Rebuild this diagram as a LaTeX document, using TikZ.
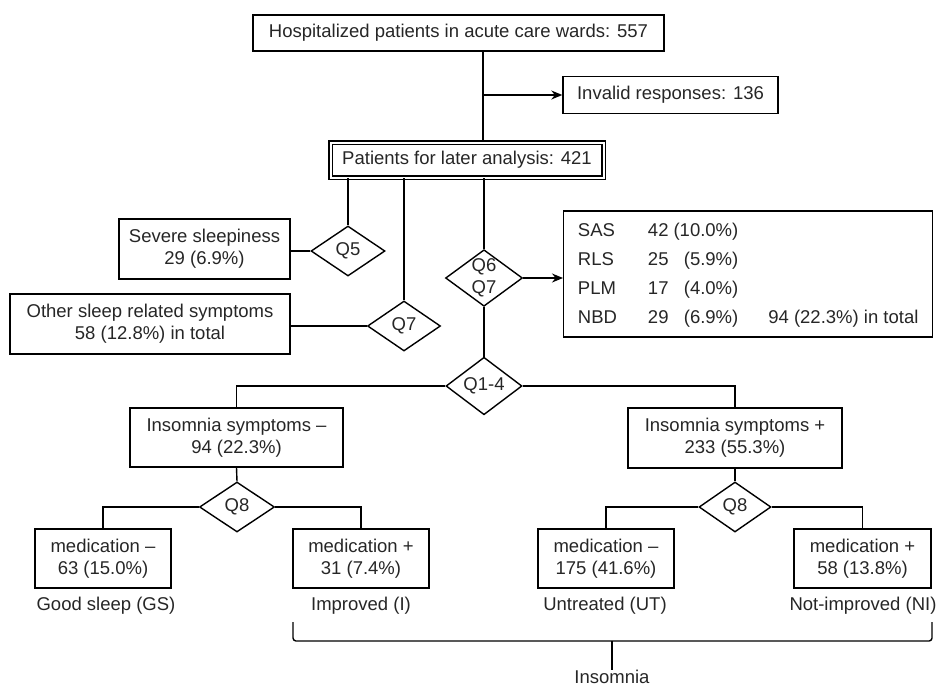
\documentclass[tikz,border=0pt]{standalone}
\usepackage{fontspec}
\setmainfont{Liberation Sans}
\usetikzlibrary{shapes.geometric,arrows.meta}
\begin{document}
\begin{tikzpicture}[x=1pt,y=-1pt,
  every node/.style={font=\fontsize{18.5}{22}\selectfont, text=black!85},
  box/.style={draw, rectangle, inner sep=0pt, align=center, line width=1.4pt},
  dbox/.style={draw, rectangle, inner sep=0pt, align=center, line width=1.1pt, double, double distance=2pt},
  dia/.style={draw, diamond, inner sep=0pt, align=center, line width=1.4pt},
  conn/.style={line width=1.4pt},
  arr/.style={conn, -{Stealth[length=11pt,width=9pt]}},
  lbl/.style={inner sep=0pt}
]
\useasboundingbox (0,0) rectangle (945,686);
% top part
\node[box, minimum width=411pt, minimum height=36pt] (top) at (458.5,33) {Hospitalized patients in acute care wards: 557};
\node[box, minimum width=215pt, minimum height=37pt] (inv) at (670.5,95) {Invalid responses: 136};
\node[dbox, minimum width=273pt, minimum height=35pt] (pat) at (467,160) {Patients for later analysis: 421};
\coordinate (trunk) at (483,0);
\draw[conn] (top.south -| trunk) -- (pat.north -| trunk);
\draw[arr] (inv.west -| trunk) -- (inv.west);
% questions
\node[dia, minimum width=74pt, minimum height=50pt] (q5) at (348,251) {Q5};
\node[box, minimum width=171pt, minimum height=60pt] (sev) at (204.5,249) {Severe sleepiness\\29 (6.9\%)};
\node[dia, minimum width=73pt, minimum height=50pt] (q7) at (404,326) {Q7};
\node[box, minimum width=280pt, minimum height=60pt] (oth) at (150,324) {Other sleep related symptoms\\58 (12.8\%) in total};
\node[dia, aspect=1.36, minimum width=76pt, minimum height=56pt] (q67) at (484,278) {Q6\\Q7};
\node[box, minimum width=369pt, minimum height=126pt, inner xsep=13pt, anchor=west] (sas) at (563,274) {\def\arraystretch{1.32}\begin{tabular}{@{}l@{\hspace{31pt}}l@{\hspace{5pt}}r@{\hspace{30pt}}l@{}}
SAS & 42 & (10.0\%) & \\
RLS & 25 & (5.9\%) & \\
PLM & 17 & (4.0\%) & \\
NBD & 29 & (6.9\%) & 94 (22.3\%) in total
\end{tabular}};
\draw[conn] (pat.south -| q5.north) -- (q5.north);
\draw[conn] (pat.south -| q7.north) -- (q7.north);
\draw[conn] (pat.south -| q67.north) -- (q67.north);
\draw[conn] (q5.west) -- (q5.west -| sev.east);
\draw[conn] (q7.west) -- (q7.west -| oth.east);
\draw[arr] (q67.east) -- (q67.east -| sas.west);
% insomnia split
\node[dia, minimum width=76pt, minimum height=52pt] (q14) at (484,386) {Q1-4};
\draw[conn] (q67.south) -- (q14.north);
\node[box, minimum width=213pt, minimum height=59pt] (insm) at (236.5,437.5) {Insomnia symptoms --\\94 (22.3\%)};
\node[box, minimum width=214pt, minimum height=60pt] (insp) at (735,438) {Insomnia symptoms +\\233 (55.3\%)};
\draw[conn] (q14.west) -| (insm.north);
\draw[conn] (q14.east) -| (insp.north);
% Q8 left
\node[dia, minimum width=75pt, minimum height=50pt] (q8a) at (237,507) {Q8};
\draw[conn] (insm.south) -- (q8a.north);
\node[box, minimum width=136pt, minimum height=59pt] (mam) at (103,558.5) {medication --\\63 (15.0\%)};
\node[box, minimum width=136pt, minimum height=59pt] (map) at (361,558.5) {medication +\\31 (7.4\%)};
\draw[conn] (q8a.west) -| (mam.north);
\draw[conn] (q8a.east) -| (map.north);
% Q8 right
\node[dia, minimum width=72pt, minimum height=50pt] (q8b) at (735,507) {Q8};
\draw[conn] (insp.south) -- (q8b.north);
\node[box, minimum width=136pt, minimum height=59pt] (mbm) at (606,558.5) {medication --\\175 (41.6\%)};
\node[box, minimum width=137pt, minimum height=59pt] (mbp) at (862.5,558.5) {medication +\\58 (13.8\%)};
\draw[conn] (q8b.west) -| (mbm.north);
\draw[conn] (q8b.east) -| (mbp.north);
% labels
\node[lbl] (gs) at (106,606) {Good sleep (GS)};
\node[lbl] (imp) at (361,606) {Improved (I)};
\node[lbl] (ut) at (605,606) {Untreated (UT)};
\node[lbl] (ni) at (863,606) {Not-improved (NI)};
% bracket
\coordinate (bl) at (293,622);
\coordinate (br) at (932,622);
\coordinate (bm) at (612,641);
\draw[conn, rounded corners=3pt] (bl) -- (bl |- bm) -- (br |- bm) -- (br);
\node[lbl] (ins) at (612,677) {Insomnia};
\draw[conn] (bm) -- (ins.north);
\end{tikzpicture}
\end{document}
